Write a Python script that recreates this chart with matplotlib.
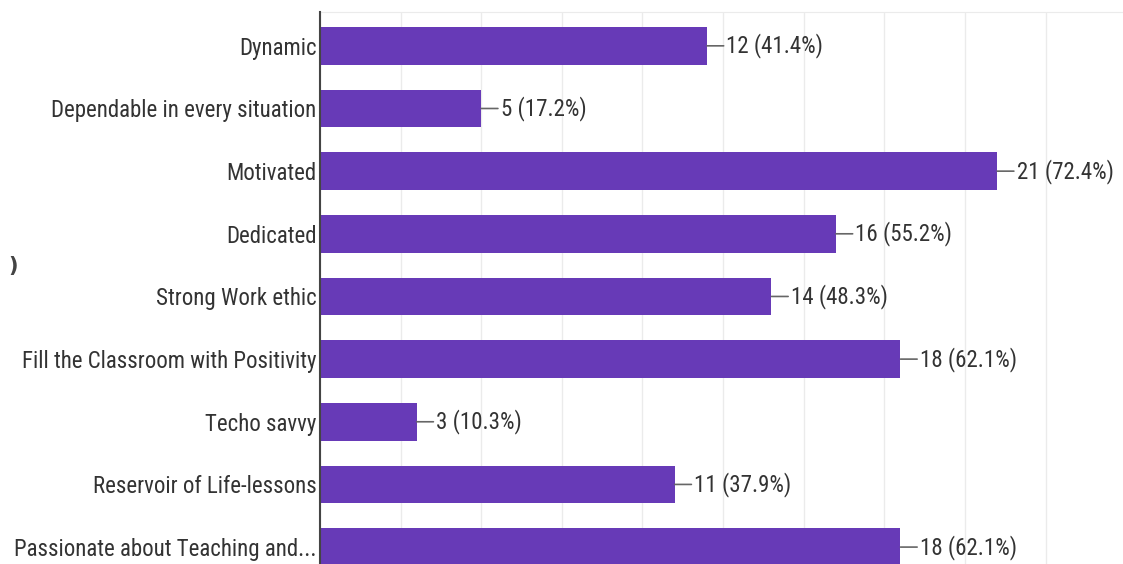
import matplotlib.pyplot as plt
import numpy as np

# survey answers, top to bottom
labels = ["Dynamic", "Dependable in every situation", "Motivated", "Dedicated",
          "Strong Work ethic", "Fill the Classroom with Positivity", "Techo savvy",
          "Reservoir of Life-lessons", "Passionate about Teaching and..."]
counts = [12, 5, 21, 16, 14, 18, 3, 11, 18]
pcts = [41.4, 17.2, 72.4, 55.2, 48.3, 62.1, 10.3, 37.9, 62.1]

plt.rcParams['font.family'] = ['Roboto Condensed', 'DejaVu Sans']

fig = plt.figure(figsize=(11.23, 5.64), dpi=100)
ax = fig.add_axes([320 / 1123, 0.0, 1 - 320 / 1123, 1 - 12 / 564])

y = np.arange(len(labels))
ax.barh(y, counts, height=0.6, color="#673ab7", zorder=2)

ax.set_xlim(0, 24.9)
ax.set_ylim(8.27, -0.54)
ax.set_xticks(np.arange(0, 25, 2.5))
ax.set_xticklabels([])
ax.tick_params(axis="x", length=0)
ax.grid(axis="x", color="#ebebeb", lw=1, zorder=0)

ax.set_yticks(y)
ax.set_yticklabels(labels, fontsize=16.5, color="#333333")
ax.tick_params(axis="y", length=0, pad=2.5)

for s in ["right", "bottom"]:
    ax.spines[s].set_visible(False)
ax.spines["top"].set_color("#ebebeb")
ax.spines["left"].set_color("#444444")
ax.spines["left"].set_linewidth(1.5)
ax.spines["left"].set_zorder(3)

for yi, c, p in zip(y, counts, pcts):
    ax.annotate(f"{c} ({p}%)", xy=(c, yi), xytext=(14, 0), textcoords="offset points",
                ha="left", va="center", fontsize=16.5, color="#333333",
                arrowprops=dict(arrowstyle="-", color="#666666", lw=1.2,
                                shrinkA=0, shrinkB=0))

# partially visible control at the left edge
fig.text(8 / 1123, 1 - 266 / 564, ")", fontsize=15, color="#444444",
         family="DejaVu Sans", fontweight="bold", va="center", ha="left")

fig.savefig("out.png", dpi=100)
